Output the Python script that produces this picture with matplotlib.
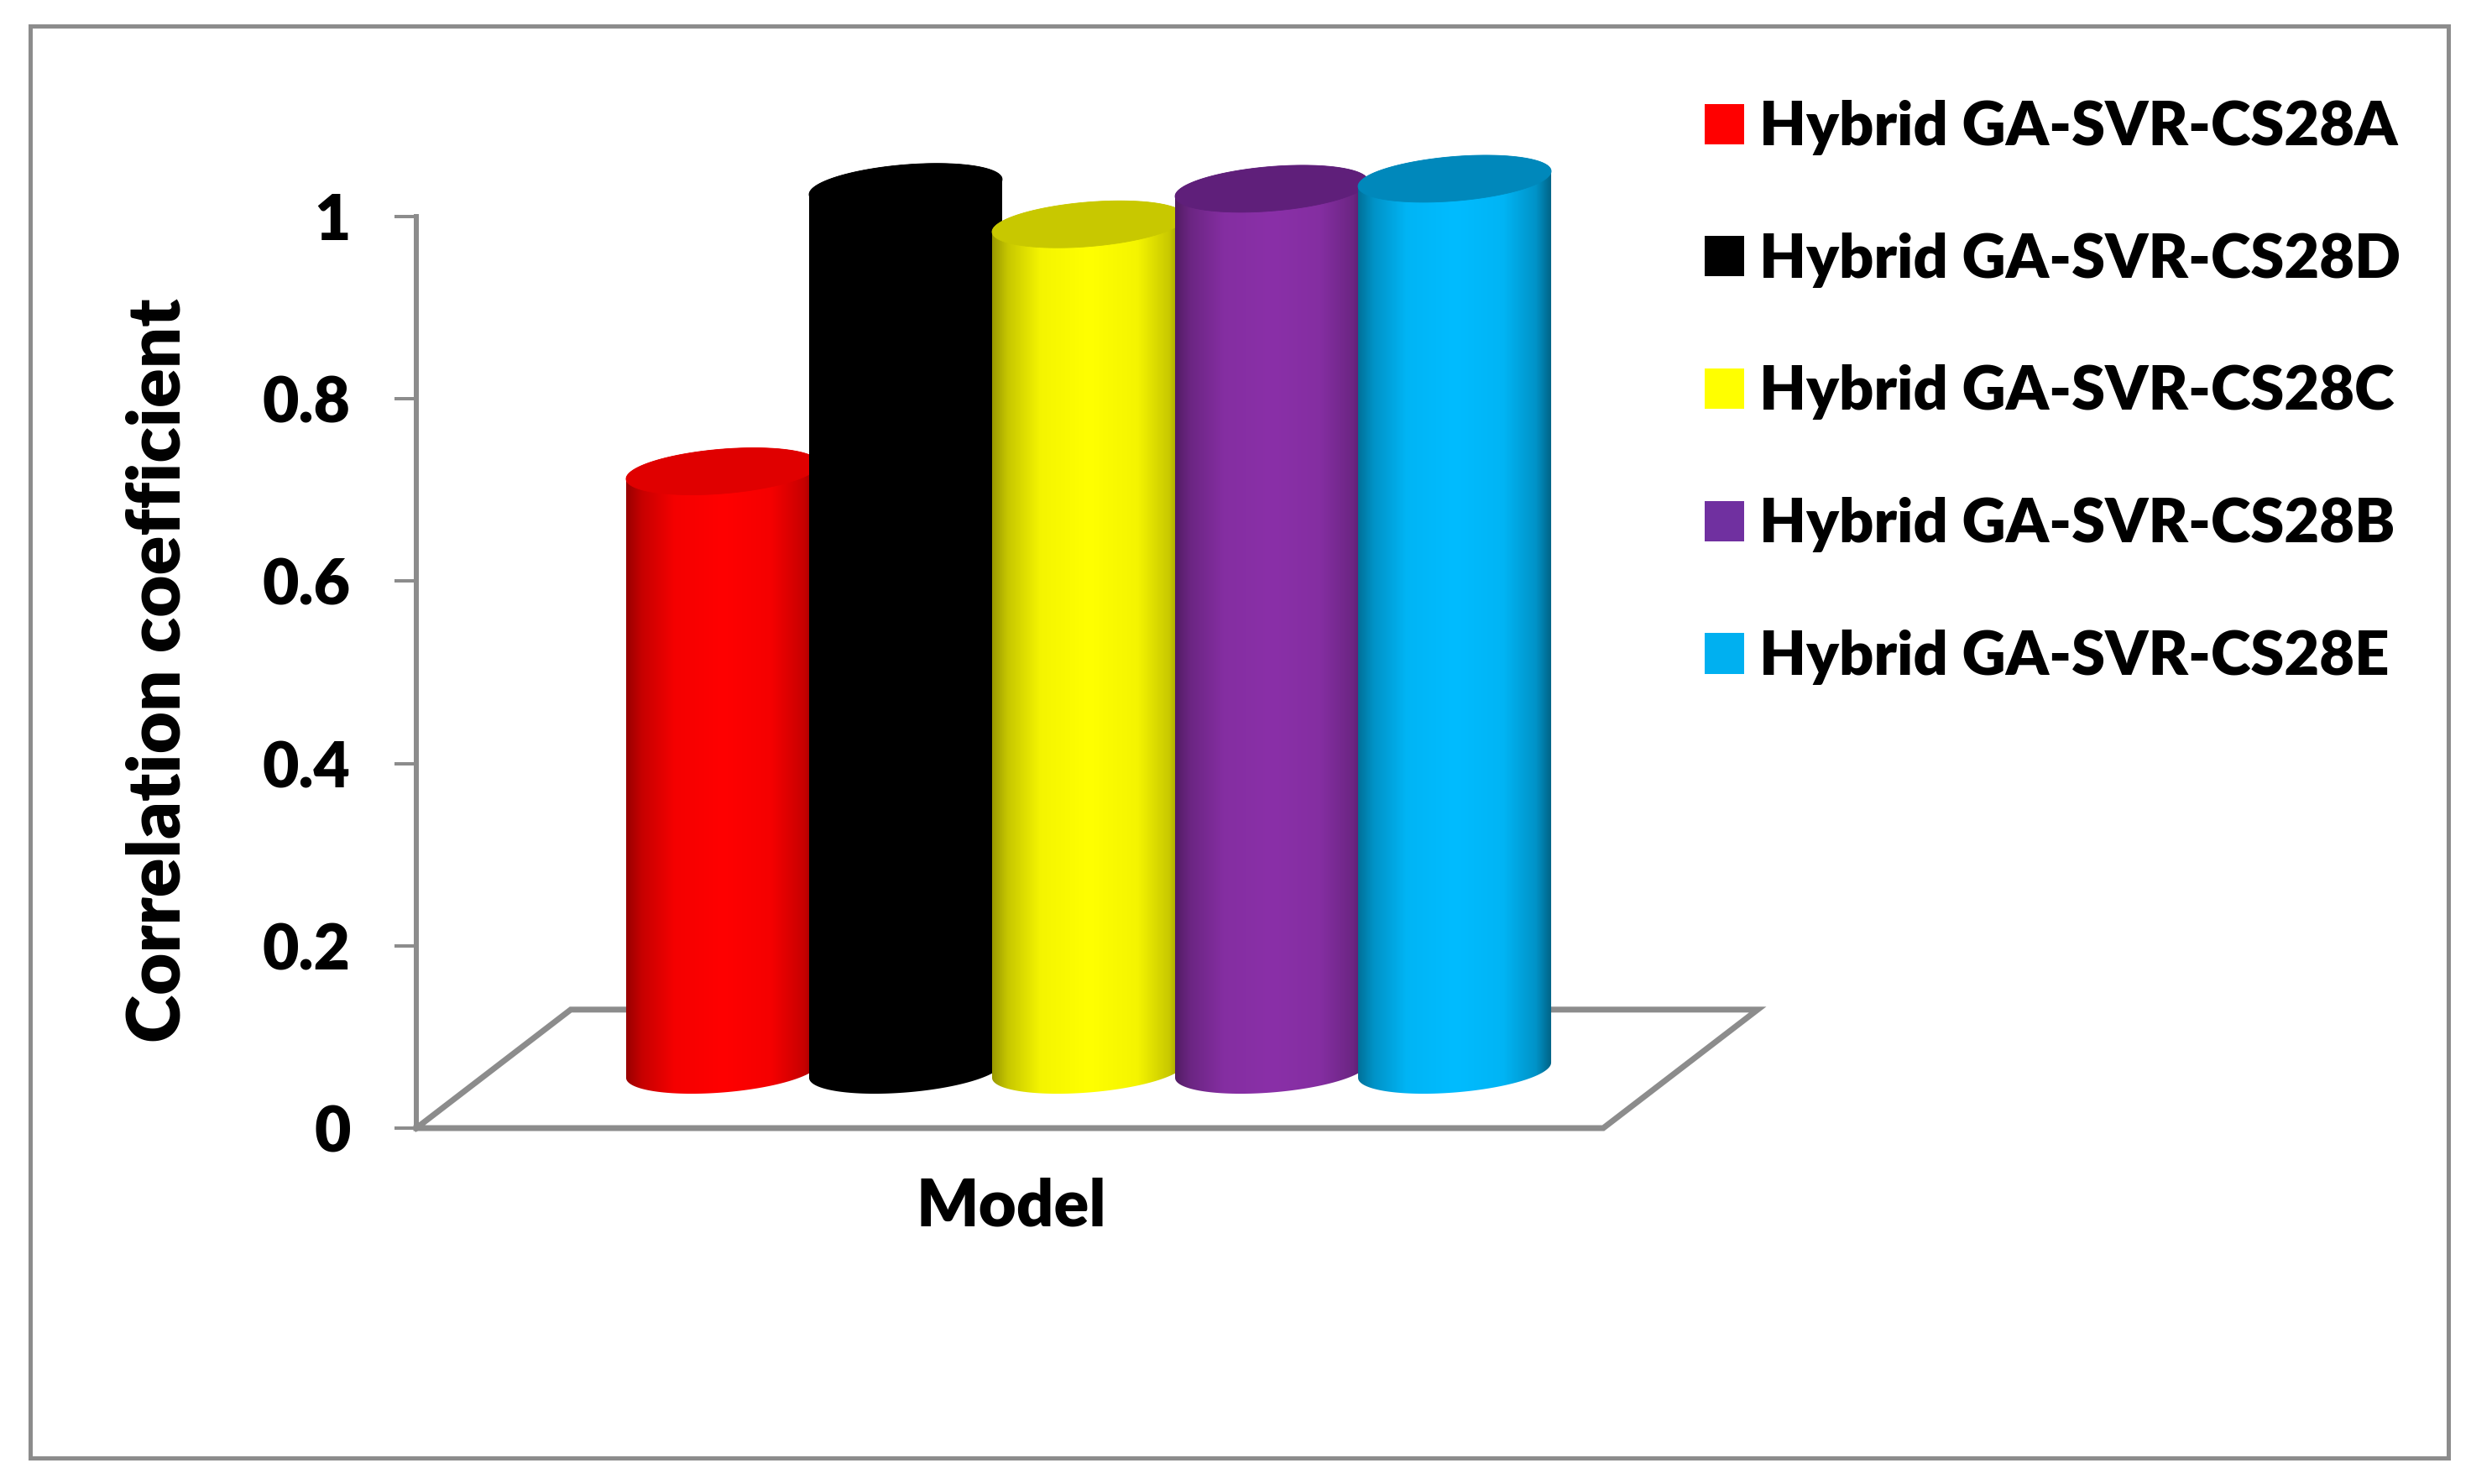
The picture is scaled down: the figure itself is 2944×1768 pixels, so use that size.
# -*- coding: utf-8 -*-
import numpy as np
import matplotlib as mpl
mpl.use('Agg')
import matplotlib.pyplot as plt
from matplotlib.colors import to_rgb
from matplotlib.patches import Patch, Polygon, Rectangle

# data
models = ['Hybrid GA-SVR-CS28A', 'Hybrid GA-SVR-CS28D', 'Hybrid GA-SVR-CS28C',
          'Hybrid GA-SVR-CS28B', 'Hybrid GA-SVR-CS28E']
corr = [0.657, 0.969, 0.928, 0.967, 0.978]
yticks = [0, 0.2, 0.4, 0.6, 0.8, 1]
yticklabels = ['0', '0.2', '0.4', '0.6', '0.8', '1']

# colours
body_colors = ['#ff0000', '#000000', '#ffff00', '#8a30a8', '#00bcff']
cap_colors = ['#e00000', '#000000', '#c8c800', '#5f1f7a', '#0088bb']
legend_colors = ['#ff0000', '#000000', '#ffff00', '#7030a0', '#00b0f0']
grey = '#8c8c8c'

W, H, dpi = 2944, 1768, 200
px = 72.0 / dpi  # one pixel in points

plt.rcParams['font.family'] = ['Lato', 'DejaVu Sans']
plt.rcParams['font.weight'] = 800
plt.rcParams['axes.labelweight'] = 800

fig = plt.figure(figsize=(W / dpi, H / dpi), dpi=dpi, facecolor='white')
fig.add_artist(Rectangle((36 / W, 1 - 1737 / H), (2917 - 36) / W, (1737 - 31) / H,
                         transform=fig.transFigure, fill=False, ec=grey, lw=5 * px))

ax = fig.add_axes([496 / W, 1 - 1344 / H, (1914 - 496) / W, (1344 - 258) / H])

# 3d look, in data units
bar_w = 1.055
depth_x, depth_y = 0.844, 0.13
base_y = 0.0635
tilt, minor = 0.0083, 0.0244

shade_pos = [0, 0.08, 0.25, 0.5, 0.75, 0.92, 1]
shade_val = [0.6, 0.78, 0.96, 1, 0.96, 0.78, 0.52]


def ellipse_xy(cx, cy, t):
    return cx + bar_w / 2 * np.cos(t), cy + tilt * np.cos(t) + minor * np.sin(t)


# floor
floor_x = [0, 1414 / 218, 1414 / 218 + depth_x, depth_x, 0]
floor_y = [0, 0, depth_y, depth_y, 0]
ax.plot(np.array(floor_x) - 1.674, floor_y, color=grey, lw=7 * px, clip_on=False, zorder=1,
        solid_joinstyle='miter')

for i, (v, body, cap) in enumerate(zip(corr, body_colors, cap_colors)):
    top = base_y + v
    lo_x, lo_y = ellipse_xy(i, base_y, np.linspace(np.pi, 2 * np.pi, 80))
    hi_x, hi_y = ellipse_xy(i, top, np.linspace(0, np.pi, 80))
    outline = Polygon(np.column_stack([np.r_[lo_x, hi_x], np.r_[lo_y, hi_y]]), closed=True,
                      transform=ax.transData, fc='none', ec='none')
    ax.add_patch(outline)
    grad = np.interp(np.linspace(0, 1, 256), shade_pos, shade_val)
    rgb = np.outer(grad, to_rgb(body))[np.newaxis, :, :]
    im = ax.imshow(rgb, extent=(i - bar_w / 2, i + bar_w / 2, 0, top + 0.06), aspect='auto',
                   interpolation='bilinear', zorder=2 + i)
    im.set_clip_box(fig.bbox)
    im.set_clip_path(outline)
    cap_x, cap_y = ellipse_xy(i, top, np.linspace(0, 2 * np.pi, 160))
    ax.add_patch(Polygon(np.column_stack([cap_x, cap_y]), closed=True, fc=cap, ec=cap, lw=0.3,
                         clip_on=False, zorder=2 + i))

ax.set_xlim(-1.674, 4.83)
ax.set_ylim(0, 1)
ax.set_xticks([])
ax.set_yticks(yticks)
ax.set_yticklabels(yticklabels)
ax.tick_params(axis='y', length=26 * px, width=4 * px, color=grey, pad=52 * px, labelsize=27)
ax.patch.set_alpha(0)
for s in ['top', 'right', 'bottom']:
    ax.spines[s].set_visible(False)
ax.spines['left'].set_color(grey)
ax.spines['left'].set_linewidth(6 * px)

ax.set_ylabel('Correlation coefficient', fontsize=31.3)
ax.yaxis.set_label_coords(-0.188, 0.502)
ax.set_xlabel('Model', fontsize=28, labelpad=21)

handles = [Patch(fc=c, ec='none') for c in legend_colors]
ax.legend(handles, models, loc='upper left', bbox_to_anchor=(2031 / W, 1 - 119 / H),
          bbox_transform=fig.transFigure, frameon=False, fontsize=26, borderpad=0,
          borderaxespad=0, handlelength=0.65, handleheight=0.65, handletextpad=0.25,
          labelspacing=1.27)

fig.savefig('out.png', dpi=dpi, facecolor='white')
